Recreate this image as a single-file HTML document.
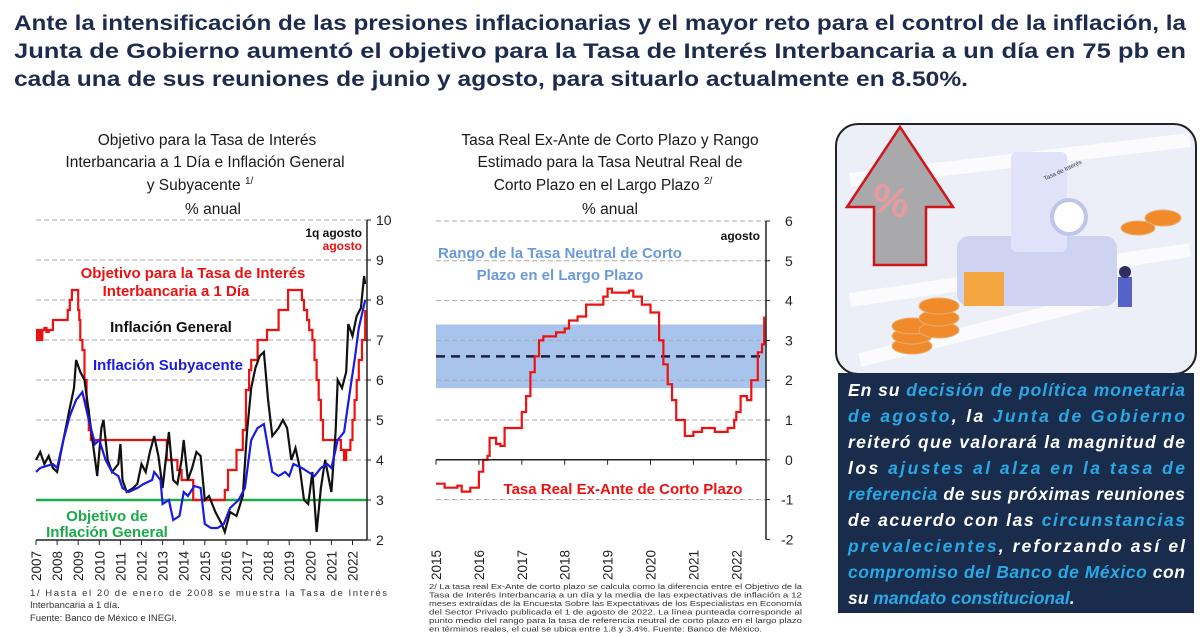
<!DOCTYPE html>
<html><head><meta charset="utf-8"><style>
body{margin:0;background:#fff;}
svg{display:block;font-family:"Liberation Sans",sans-serif;}
</style></head><body>
<svg id="s" width="1200" height="637" viewBox="0 0 1200 637" xmlns="http://www.w3.org/2000/svg">
<g font-weight="bold" font-size="21" fill="#1d2b4f">
<text x="14" y="30" textLength="1172" lengthAdjust="spacingAndGlyphs">Ante la intensificación de las presiones inflacionarias y el mayor reto para el control de la inflación, la</text>
<text x="14" y="58" textLength="1172" lengthAdjust="spacingAndGlyphs">Junta de Gobierno aumentó el objetivo para la Tasa de Interés Interbancaria a un día en 75 pb en</text>
<text x="14" y="86" textLength="954" lengthAdjust="spacingAndGlyphs">cada una de sus reuniones de junio y agosto, para situarlo actualmente en 8.50%.</text>
</g>
<g font-size="15.5" fill="#1a1a1a" text-anchor="middle">
<text x="207" y="145">Objetivo para la Tasa de Interés</text>
<text x="205" y="167">Interbancaria a 1 Día e Inflación General</text>
<text x="200" y="190">y Subyacente <tspan font-size="10" dy="-6">1/</tspan></text>
<text x="213" y="214" dy="0">% anual</text>
</g>
<g font-size="15.5" fill="#1a1a1a" text-anchor="middle">
<text x="610" y="145">Tasa Real Ex-Ante de Corto Plazo y Rango</text>
<text x="610" y="167">Estimado para la Tasa Neutral Real de</text>
<text x="603" y="190">Corto Plazo en el Largo Plazo <tspan font-size="10" dy="-6">2/</tspan></text>
<text x="610" y="214">% anual</text>
</g>
<g id="c1"></g>
<g id="c2"></g>
<g font-size="9.5" fill="#333">
<text x="30" y="596" textLength="357" lengthAdjust="spacing">1/  Hasta el 20 de enero de 2008 se muestra la Tasa de Interés</text>
<text x="30" y="608">Interbancaria a 1 día.</text>
<text x="30" y="621">Fuente:  Banco de México e INEGI.</text>
</g>
<g font-size="7.6" fill="#333">
<text x="429" y="589" textLength="373" lengthAdjust="spacingAndGlyphs">2/ La tasa real Ex-Ante de corto plazo se calcula como la diferencia entre el Objetivo de la</text>
<text x="429" y="597.5" textLength="373" lengthAdjust="spacingAndGlyphs">Tasa de Interés Interbancaria a un día y la media de las expectativas de inflación a 12</text>
<text x="429" y="606" textLength="373" lengthAdjust="spacingAndGlyphs">meses extraídas de la Encuesta Sobre las Expectativas de los Especialistas en Economía</text>
<text x="429" y="614.5" textLength="373" lengthAdjust="spacingAndGlyphs">del Sector Privado publicada el 1 de agosto de 2022. La línea punteada corresponde al</text>
<text x="429" y="623" textLength="373" lengthAdjust="spacingAndGlyphs">punto medio del rango para la tasa de referencia neutral de corto plazo en el largo plazo</text>
<text x="429" y="631.5" textLength="333" lengthAdjust="spacingAndGlyphs">en términos reales, el cual se ubica entre 1.8 y 3.4%. Fuente: Banco de México.</text>
</g>
<g>
<rect x="836" y="124" width="360" height="250" rx="22" fill="#eceef8" stroke="#222" stroke-width="2"/>
<path d="M850 180 L1190 140 M850 300 L1190 250 M860 360 L1100 300" stroke="#fff" stroke-width="14" opacity="0.8"/>
<rect x="957" y="236" width="160" height="70" rx="12" fill="#cfd3f2"/>
<rect x="1011" y="152" width="56" height="100" rx="6" fill="#dfe2f8"/>
<circle cx="1069" cy="217" r="17" fill="#fff" stroke="#bfc4ea" stroke-width="4"/>
<rect x="964" y="272" width="40" height="34" fill="#f4a640"/>
<text x="1043" y="178" font-size="6" transform="rotate(-25 1050 175)" fill="#333">Tasa de Interés</text>
<g fill="#f08a2a" stroke="#e8b070" stroke-width="1">
<ellipse cx="912" cy="346" rx="20" ry="8"/><ellipse cx="912" cy="336" rx="20" ry="8"/><ellipse cx="912" cy="326" rx="20" ry="8"/>
<ellipse cx="939" cy="330" rx="20" ry="8"/><ellipse cx="939" cy="318" rx="20" ry="8"/><ellipse cx="939" cy="306" rx="20" ry="8"/>
<ellipse cx="1163" cy="218" rx="18" ry="8"/><ellipse cx="1138" cy="228" rx="17" ry="7"/>
</g>
<rect x="1118" y="277" width="14" height="30" fill="#5563c9"/>
<circle cx="1125" cy="272" r="6" fill="#2d2e63"/>
<path d="M900 127 L953 207 L926 207 L926 265 L874 265 L874 207 L847 207 Z" fill="#a9a9ab" stroke="#d2151a" stroke-width="2.5"/>
<text x="891" y="215" font-size="42" font-weight="bold" fill="#e59ba0" text-anchor="middle" transform="rotate(12 891 200)">%</text>
</g>
<g>
<rect x="838" y="373" width="356" height="240" fill="#1a2c4b"/>
<g font-size="17.5" font-weight="bold" font-style="italic" fill="#fff">
<text x="848" y="396" textLength="337" lengthAdjust="spacing">En su <tspan fill="#29a8e6">decisión de política monetaria</tspan></text>
<text x="848" y="422" textLength="337" lengthAdjust="spacing"><tspan fill="#29a8e6">de agosto</tspan>, la <tspan fill="#29a8e6">Junta de Gobierno</tspan></text>
<text x="848" y="448" textLength="337" lengthAdjust="spacing">reiteró que valorará la magnitud de</text>
<text x="848" y="474" textLength="337" lengthAdjust="spacing">los <tspan fill="#29a8e6">ajustes al alza en la tasa de</tspan></text>
<text x="848" y="500" textLength="337" lengthAdjust="spacing"><tspan fill="#29a8e6">referencia</tspan> de sus próximas reuniones</text>
<text x="848" y="526" textLength="337" lengthAdjust="spacing">de acuerdo con las <tspan fill="#29a8e6">circunstancias</tspan></text>
<text x="848" y="552" textLength="337" lengthAdjust="spacing"><tspan fill="#29a8e6">prevalecientes</tspan>, reforzando así el</text>
<text x="848" y="578" textLength="337" lengthAdjust="spacing"><tspan fill="#29a8e6">compromiso del Banco de México</tspan> con</text>
<text x="848" y="604">su <tspan fill="#29a8e6">mandato constitucional</tspan>.</text>
</g>
</g>
</svg>
<script>
const NS='http://www.w3.org/2000/svg';
// ---- Chart 1 data ----
const c1Years=[2007,2008,2009,2010,2011,2012,2013,2014,2015,2016,2017,2018,2019,2020,2021,2022];
const c1Ticks=[2,3,4,5,6,7,8,9,10];
const rateDates=[2007.0,2007.05,2007.1,2007.2,2007.3,2007.4,2007.5,2007.6,2007.8,2008.5,2008.6,2008.7,2009.0,2009.05,2009.1,2009.2,2009.3,2009.4,2009.5,2009.6,2013.2,2013.7,2013.9,2014.45,2015.95,2016.1,2016.5,2016.8,2016.95,2017.1,2017.2,2017.5,2017.95,2018.5,2018.95,2019.6,2019.7,2019.85,2019.95,2020.1,2020.2,2020.3,2020.4,2020.5,2020.6,2021.45,2021.6,2021.7,2021.9,2022.0,2022.1,2022.2,2022.3,2022.45,2022.6];
const rateVals=[7.25,7.0,7.25,7.0,7.25,7.3,7.2,7.25,7.5,7.75,8.0,8.25,7.75,7.5,7.0,6.75,6.0,5.25,4.75,4.5,4.0,3.75,3.5,3.0,3.25,3.75,4.25,4.75,5.75,6.25,6.5,7.0,7.25,7.75,8.25,8.0,7.75,7.5,7.25,7.0,6.5,6.0,5.5,5.0,4.5,4.25,4.0,4.25,4.5,5.0,5.5,6.0,6.5,7.0,7.75,8.5];
const genDates=[2007.0,2007.2,2007.4,2007.6,2007.8,2008.0,2008.3,2008.6,2008.8,2008.9,2009.1,2009.3,2009.5,2009.7,2009.9,2010.1,2010.2,2010.4,2010.6,2010.9,2011.0,2011.1,2011.3,2011.6,2011.8,2012.0,2012.2,2012.4,2012.6,2012.8,2013.0,2013.3,2013.5,2013.7,2013.9,2014.0,2014.2,2014.4,2014.6,2014.8,2015.0,2015.2,2015.5,2015.8,2015.95,2016.2,2016.5,2016.8,2017.0,2017.2,2017.4,2017.6,2017.8,2018.0,2018.2,2018.5,2018.7,2018.9,2019.1,2019.3,2019.5,2019.7,2019.9,2020.1,2020.3,2020.5,2020.7,2021.0,2021.2,2021.3,2021.5,2021.7,2021.8,2022.0,2022.2,2022.4,2022.55,2022.6];
const genVals=[4.0,4.2,3.9,4.1,3.8,3.7,4.5,5.3,5.8,6.5,6.2,6.0,5.2,4.4,3.6,4.8,5.0,4.0,3.7,3.9,4.4,3.5,3.2,3.3,3.4,3.9,3.7,4.2,4.6,4.1,3.3,4.7,3.5,3.4,4.0,4.5,3.5,3.8,4.2,4.1,3.0,3.1,2.7,2.4,2.2,2.7,2.6,3.1,4.7,5.8,6.3,6.6,6.7,5.5,4.6,4.8,5.0,4.8,4.0,4.3,3.8,3.0,2.9,3.7,2.2,3.3,4.0,3.2,4.7,6.0,5.8,6.2,7.4,7.1,7.6,7.8,8.6,8.4];
const coreDates=[2007.0,2007.2,2007.8,2008.0,2008.3,2008.6,2008.9,2009.2,2009.5,2009.8,2010.0,2010.3,2010.6,2010.9,2011.1,2011.4,2011.8,2012.1,2012.5,2012.6,2012.9,2013.0,2013.3,2013.5,2013.8,2014.0,2014.2,2014.5,2014.8,2015.0,2015.3,2015.6,2015.9,2016.2,2016.6,2016.9,2017.2,2017.5,2017.8,2018.0,2018.2,2018.5,2018.8,2019.0,2019.2,2019.6,2019.9,2020.2,2020.5,2020.8,2021.0,2021.3,2021.6,2021.9,2022.1,2022.3,2022.6];
const coreVals=[3.7,3.8,3.9,3.8,4.5,5.1,5.5,5.7,5.0,4.4,4.5,4.0,3.7,3.6,3.3,3.2,3.3,3.4,3.5,3.7,3.5,2.9,3.0,2.5,2.6,3.2,3.1,3.35,3.3,2.4,2.3,2.3,2.4,2.8,3.0,3.3,4.5,4.8,4.9,4.3,3.7,3.6,3.7,3.6,3.9,3.8,3.7,3.6,3.8,3.9,3.8,4.5,4.7,5.8,6.5,7.3,8.0];
const targetInfl=[3];
// ---- Chart 2 data ----
const c2Years=[2015,2016,2017,2018,2019,2020,2021,2022];
const c2Ticks=[-2,-1,0,1,2,3,4,5,6];
const realDates=[2015.0,2015.2,2015.5,2015.6,2015.8,2016.0,2016.1,2016.2,2016.25,2016.4,2016.5,2016.6,2016.9,2017.0,2017.1,2017.2,2017.3,2017.4,2017.5,2017.8,2018.0,2018.1,2018.3,2018.5,2018.8,2018.9,2019.0,2019.1,2019.5,2019.6,2019.8,2020.0,2020.2,2020.3,2020.4,2020.5,2020.6,2020.8,2021.0,2021.2,2021.5,2021.8,2021.95,2022.0,2022.1,2022.25,2022.35,2022.5,2022.6,2022.65];
const realVals=[-0.6,-0.7,-0.65,-0.8,-0.7,-0.3,0.0,0.1,0.55,0.4,0.35,0.8,0.8,1.2,1.6,2.2,2.6,3.0,3.1,3.2,3.3,3.5,3.6,3.9,3.9,4.1,4.3,4.2,4.25,4.1,3.9,3.7,3.0,2.4,1.9,1.5,1.0,0.6,0.7,0.8,0.7,0.8,1.0,1.2,1.6,1.5,2.0,2.7,2.9,3.6];
const neutralRange=[1.8,3.4];
const neutralMid=[2.6];

function el(tag,attrs,parent,txt){const e=document.createElementNS(NS,tag);for(const k in attrs)e.setAttribute(k,attrs[k]);if(txt!==undefined)e.textContent=txt;parent.appendChild(e);return e;}
function pts(ds,vs,X,Y){return ds.map((d,i)=>X(d).toFixed(1)+','+Y(vs[i]).toFixed(1)).join(' ');}
function stepPts(ds,vs,X,Y){let a=[];ds.forEach((d,i)=>{if(i>0)a.push(X(d).toFixed(1)+','+Y(vs[i-1]).toFixed(1));a.push(X(d).toFixed(1)+','+Y(vs[i]).toFixed(1));});return a.join(' ');}

// Chart 1
(function(){
const g=document.getElementById('c1');
const X=y=>36+(y-2007)*21.1, Y=v=>540-(v-2)*40;
const L=36,R=367;
c1Ticks.forEach(t=>{
  if(t>2&&t!==3){const gl=el('line',{x1:L,x2:R,y1:Y(t),y2:Y(t),stroke:'#aaa','stroke-dasharray':'5,3','stroke-width':1},g);
  }
  const tl=el('text',{x:376,y:Y(t)+5,'font-size':14,fill:'#222'},g,String(t));
  
  el('line',{x1:R,x2:R+4,y1:Y(t),y2:Y(t),stroke:'#222'},g);
});
const tg=el('line',{x1:L,x2:R,y1:Y(targetInfl[0]),y2:Y(targetInfl[0]),stroke:'#1aaa4a','stroke-width':2.5},g);

const rl=el('polyline',{points:stepPts(rateDates,rateVals,X,Y),fill:'none',stroke:'#ee1111','stroke-width':2.2},g);

const gl2=el('polyline',{points:pts(genDates,genVals,X,Y),fill:'none',stroke:'#111','stroke-width':2.2},g);

const cl=el('polyline',{points:pts(coreDates,coreVals,X,Y),fill:'none',stroke:'#1a1ae0','stroke-width':2.2},g);

el('line',{x1:R,x2:R,y1:Y(10),y2:Y(2),stroke:'#222','stroke-width':1.5},g);
el('line',{x1:L,x2:R,y1:Y(2),y2:Y(2),stroke:'#222','stroke-width':1.5},g);
c1Years.forEach(yr=>{
  el('line',{x1:X(yr),x2:X(yr),y1:Y(2),y2:Y(2)+5,stroke:'#222'},g);
  const t=el('text',{x:0,y:0,'font-size':13.5,fill:'#222',transform:`translate(${X(yr)+5},581) rotate(-90)`},g,String(yr));
  
});
const labs=[['1q agosto',362,237,'#111',12,'end'],['agosto',362,250,'#ee1111',12,'end'],['Objetivo para la Tasa de Interés',193,278,'#ee1111',15,'middle'],['Interbancaria a 1 Día',176,296,'#ee1111',15,'middle'],['Inflación General',171,332,'#111',15,'middle'],['Inflación Subyacente',168,370,'#1a1ae0',15,'middle'],['Objetivo de',107,521,'#1aaa4a',15,'middle'],['Inflación General',107,537,'#1aaa4a',15,'middle']];
labs.forEach(l=>{const t=el('text',{x:l[1],y:l[2],fill:l[3],'font-size':l[4],'font-weight':'bold','text-anchor':l[5]},g,l[0]);
});
})();

// Chart 2
(function(){
const g=document.getElementById('c2');
const X=y=>436+(y-2015)*42.9, Y=v=>221+(6-v)*39.8;
const L=436,R=766;
const band=el('rect',{x:L,y:Y(neutralRange[1]),width:R-L,height:Y(neutralRange[0])-Y(neutralRange[1]),fill:'#a9c4ec'},g);

c2Ticks.forEach(t=>{
  if(t!==0&&t>-2){const gl=el('line',{x1:L,x2:R,y1:Y(t),y2:Y(t),stroke:'#aaa','stroke-dasharray':'5,3','stroke-width':1},g);
  }
  const tl=el('text',{x:t<0?781:785,y:Y(t)+5,'font-size':14,fill:'#222'},g,String(t));
  
  el('line',{x1:R,x2:R+4,y1:Y(t),y2:Y(t),stroke:'#222'},g);
});
const md=el('line',{x1:L,x2:R,y1:Y(neutralMid[0]),y2:Y(neutralMid[0]),stroke:'#1e1e3c','stroke-width':2.5,'stroke-dasharray':'9,6'},g);

const rr=el('polyline',{points:stepPts(realDates,realVals,X,Y),fill:'none',stroke:'#ee1111','stroke-width':2.2},g);

el('line',{x1:R,x2:R,y1:Y(6),y2:Y(-2),stroke:'#222','stroke-width':1.5},g);
el('line',{x1:L,x2:R,y1:Y(0),y2:Y(0),stroke:'#222','stroke-width':1.5},g);
c2Years.forEach(yr=>{
  el('line',{x1:X(yr),x2:X(yr),y1:Y(0),y2:Y(0)+5,stroke:'#222'},g);
  const t=el('text',{x:0,y:0,'font-size':13.5,fill:'#222',transform:`translate(${X(yr)+5},580) rotate(-90)`},g,String(yr));
  
});
const labs=[['agosto',760,240,'#111',12,'end'],['Rango de la Tasa Neutral de Corto',560,258,'#6a9ad8',15,'middle'],['Plazo en el Largo Plazo',560,280,'#6a9ad8',15,'middle'],['Tasa Real Ex-Ante de Corto Plazo',623,494,'#ee1111',15,'middle']];
labs.forEach(l=>{const t=el('text',{x:l[1],y:l[2],fill:l[3],'font-size':l[4],'font-weight':'bold','text-anchor':l[5]},g,l[0]);
});
})();
</script>
</body></html>
